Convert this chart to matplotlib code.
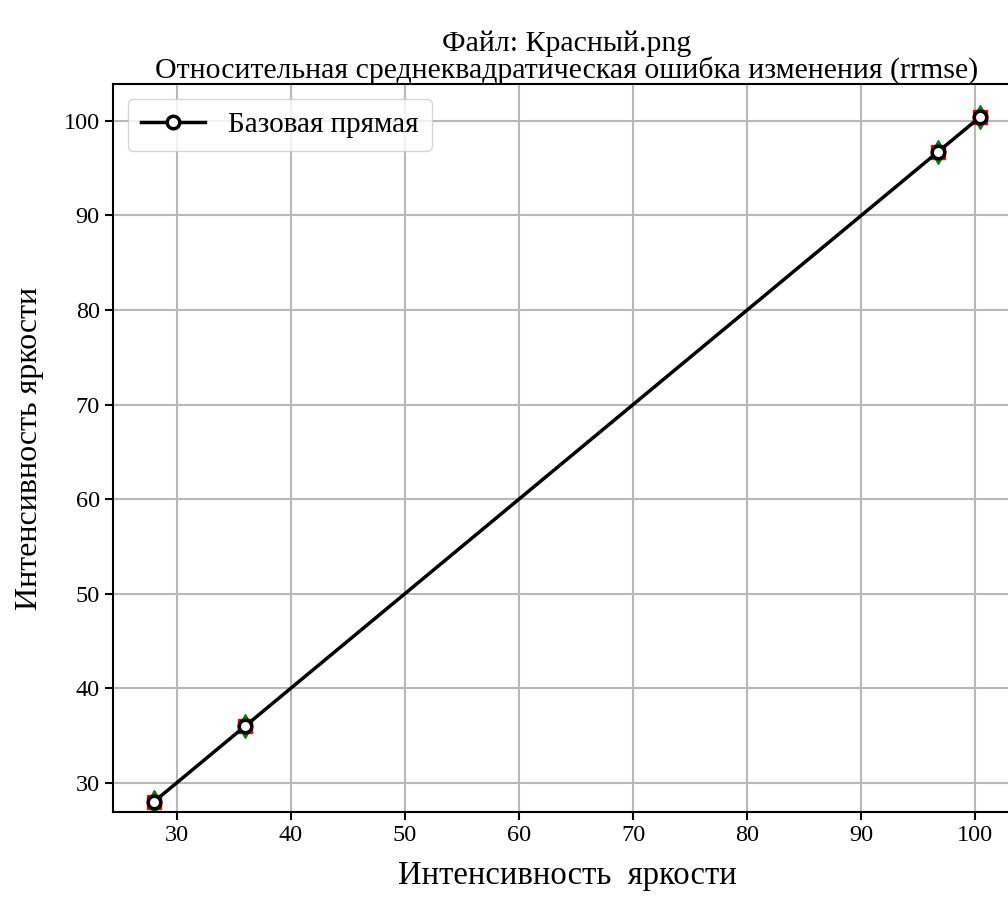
import matplotlib
matplotlib.use("Agg")
import matplotlib.pyplot as plt

plt.rcParams['font.family'] = ['Liberation Serif', 'DejaVu Serif']

# значения яркости (исходные и после изменения)
x_vals = [28.0, 36.0, 96.7, 100.4]
base_vals = [28.0, 36.0, 96.7, 100.4]
red_vals = [28.0, 36.0, 96.7, 100.4]
green_vals = [28.0, 36.0, 96.7, 100.4]
blue_vals = [28.0, 36.0, 96.7, 100.4]

x_ticks = [30, 40, 50, 60, 70, 80, 90, 100]
y_ticks = [30, 40, 50, 60, 70, 80, 90, 100]

fig = plt.figure(figsize=(10.08, 9.18), dpi=100)
ax = fig.add_axes([113 / 1008, 106 / 918, 908 / 1008, 728 / 918])

ax.plot(x_vals, red_vals, 's', color='red', markersize=10, linestyle='none')
ax.plot(x_vals, green_vals, 'd', color='green', markersize=12, linestyle='none')
ax.plot(x_vals, blue_vals, 'o', color='blue', markersize=10, linestyle='none')
ax.plot(x_vals, base_vals, '-o', color='black', linewidth=2.5,
        markersize=9, markerfacecolor='white', markeredgewidth=2.5,
        label='Базовая прямая')

ax.set_xlim(24.4, 104.0)
ax.set_ylim(26.9, 103.9)
ax.set_xticks(x_ticks)
ax.set_yticks(y_ticks)
ax.tick_params(labelsize=17.5, width=1.5, length=6)
for s in ax.spines.values():
    s.set_linewidth(1.5)
ax.grid(True, color='#b8b8b8', linewidth=1.5)
ax.set_axisbelow(True)

ax.set_xlabel('Интенсивность  яркости', fontsize=23.5, labelpad=10)
ax.set_ylabel('Интенсивность яркости', fontsize=23, labelpad=14)
ax.set_title('Файл: Красный.png\nОтносительная среднеквадратическая ошибка изменения (rrmse)',
             fontsize=21.5, linespacing=0.95, pad=4)
ax.legend(loc='upper left', fontsize=21, borderpad=0.45, handlelength=2.2)

fig.savefig('out.png', dpi=100)
